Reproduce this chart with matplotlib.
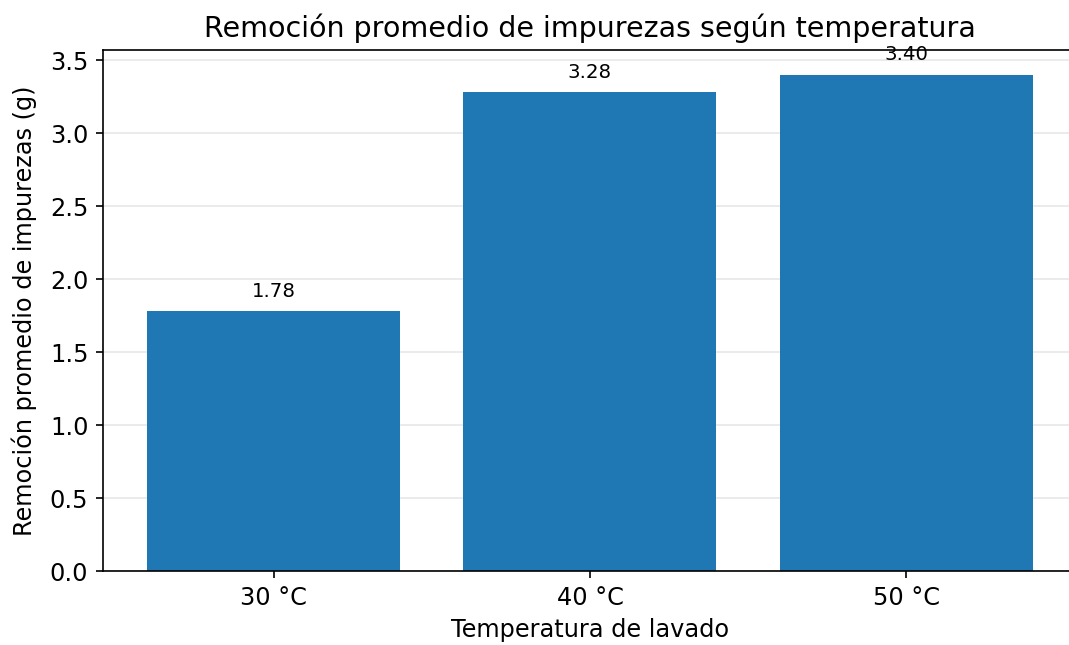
import matplotlib
matplotlib.use("Agg")
import matplotlib.pyplot as plt

temperaturas = ["30 °C", "40 °C", "50 °C"]
remocion = [1.78, 3.28, 3.40]

fig, ax = plt.subplots(figsize=(1069 / 150, 645 / 150), dpi=150)
bars = ax.bar(temperaturas, remocion, color="#1f77b4", zorder=2)

# etiquetas de valor sobre cada barra
for b, v in zip(bars, remocion):
    ax.annotate(f"{v:.2f}", (b.get_x() + b.get_width() / 2, v),
                xytext=(0, 5), textcoords="offset points",
                ha="center", va="bottom", fontsize=9.5)

ax.set_ylim(0, max(remocion) * 1.05)
ax.grid(axis="y", alpha=0.3, zorder=0)
ax.set_title("Remoción promedio de impurezas según temperatura", fontsize=13.7)
ax.set_xlabel("Temperatura de lavado", fontsize=11.5)
ax.set_ylabel("Remoción promedio de impurezas (g)", fontsize=11.5, labelpad=6)
ax.tick_params(labelsize=11.5)

fig.subplots_adjust(left=0.0963, right=1.0075, top=0.9225, bottom=0.1147)
fig.savefig("out.png", dpi=150)
